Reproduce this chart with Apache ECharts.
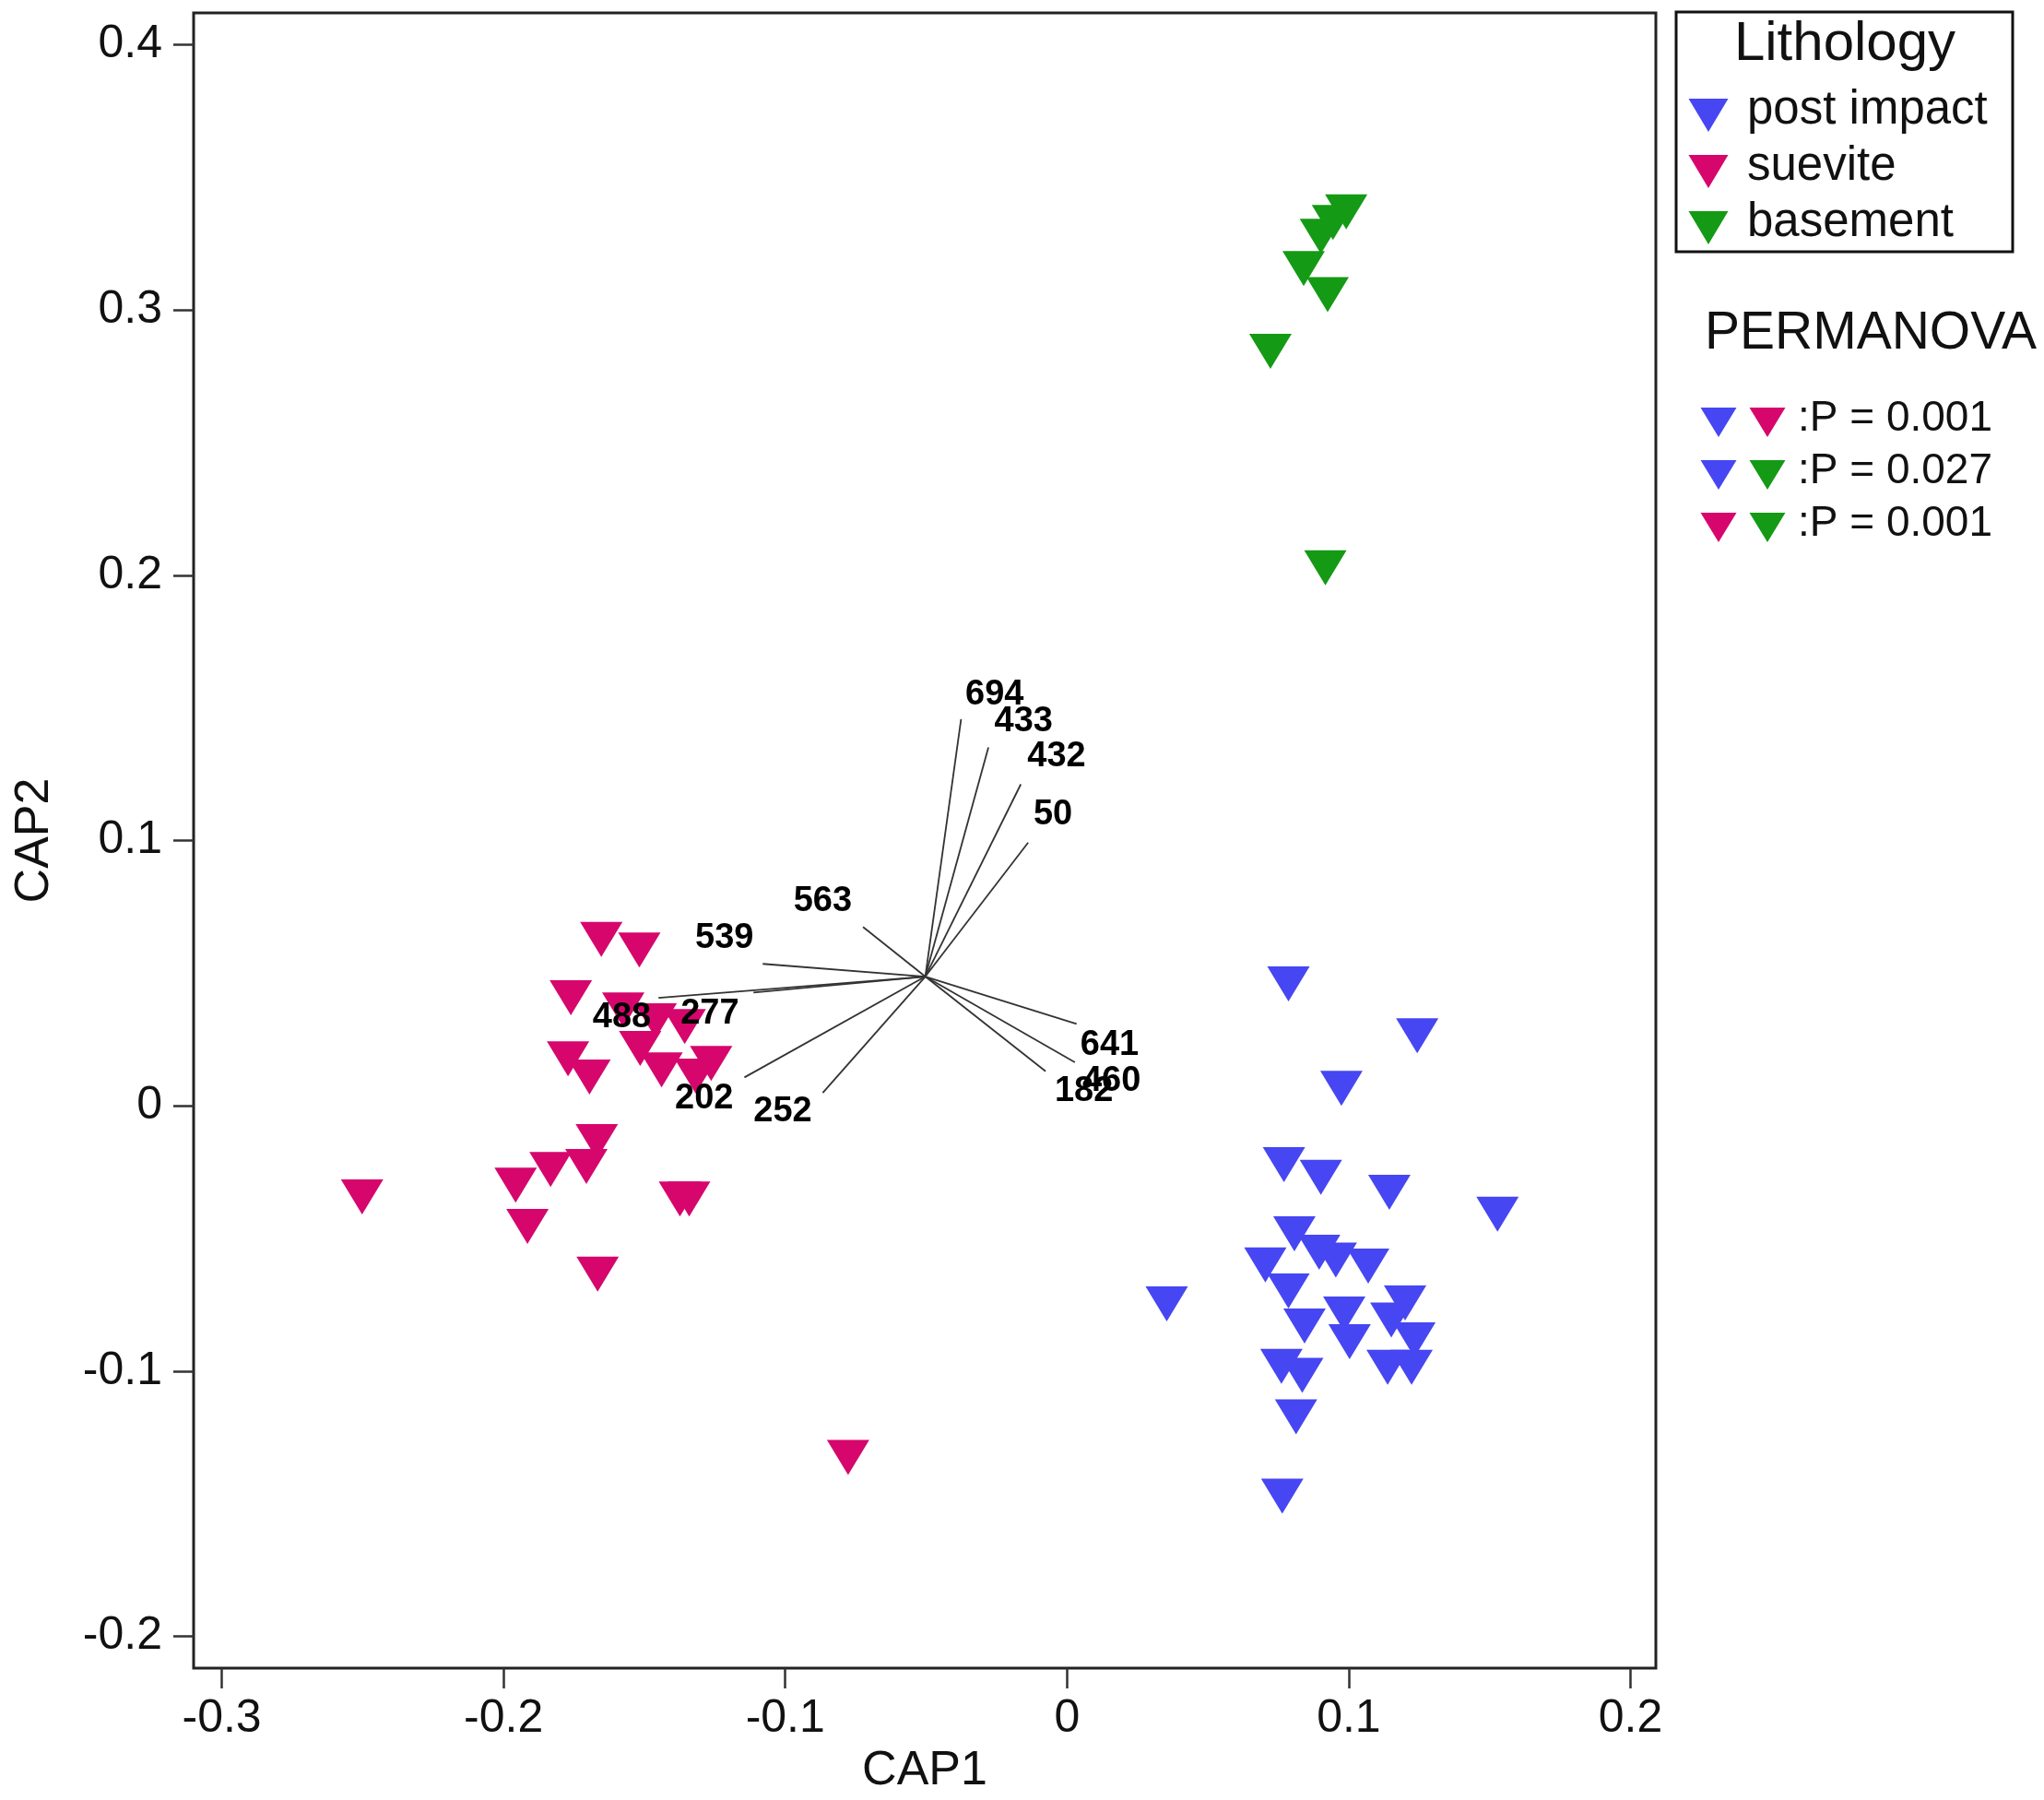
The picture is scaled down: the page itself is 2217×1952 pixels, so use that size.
<!DOCTYPE html>
<html>
<head>
<meta charset="utf-8">
<title>CAP ordination</title>
<script src="https://cdn.jsdelivr.net/npm/echarts@6.0.0/dist/echarts.min.js"></script>
<style>
  html, body { margin: 0; padding: 0; background: #fff; }
  #chart { width: 2217px; height: 1952px; }
</style>
</head>
<body>
<div id="chart"></div>
<script>
// sample scores (CAP1, CAP2)
var postImpact = [
    [0.0786, 0.0459], [0.1243, 0.0264], [0.0974, 0.0066], [0.0770, -0.0222],
    [0.0901, -0.0270], [0.1144, -0.0326], [0.1528, -0.0409], [0.0807, -0.0483],
    [0.0704, -0.0600], [0.0895, -0.0552], [0.0954, -0.0582], [0.1069, -0.0604],
    [0.0786, -0.0698], [0.0843, -0.0830], [0.0984, -0.0785], [0.1003, -0.0889],
    [0.1200, -0.0743], [0.1151, -0.0808], [0.1233, -0.0882], [0.1138, -0.0986],
    [0.1223, -0.0986], [0.0761, -0.0982], [0.0835, -0.1016], [0.0354, -0.0747],
    [0.0813, -0.1173], [0.0764, -0.1472]
];
var suevite = [
    [-0.1653, 0.0627], [-0.1518, 0.0587], [-0.1761, 0.0407], [-0.1575, 0.0361],
    [-0.1460, 0.0320], [-0.1357, 0.0299], [-0.1515, 0.0216], [-0.1439, 0.0135],
    [-0.1263, 0.0160], [-0.1318, 0.0112], [-0.1771, 0.0177], [-0.1695, 0.0108],
    [-0.1669, -0.0135], [-0.1706, -0.0229], [-0.1833, -0.0240], [-0.1957, -0.0299],
    [-0.1915, -0.0455], [-0.2502, -0.0344], [-0.1374, -0.0351], [-0.1341, -0.0351],
    [-0.1666, -0.0635], [-0.0777, -0.1326]
];
var basement = [
    [0.0991, 0.3370], [0.0944, 0.3330], [0.0901, 0.3278], [0.0840, 0.3156],
    [0.0925, 0.3058], [0.0722, 0.2844], [0.0917, 0.2028]
];

// biplot vectors: common origin, tips and where the labels sit
var vectorOrigin = [-0.0503, 0.0487];
var vectorNames = ['694', '433', '432', '50', '563', '539', '488', '277', '202', '252', '641', '460', '182'];
var vectorTips = [
    [-0.0376, 0.1458], [-0.0279, 0.1351], [-0.0164, 0.1212], [-0.0138, 0.0992],
    [-0.0724, 0.0674], [-0.1080, 0.0535], [-0.1450, 0.0407], [-0.1113, 0.0427],
    [-0.1145, 0.0107], [-0.0867, 0.0049], [0.0034, 0.0309], [0.0028, 0.0164],
    [-0.0076, 0.0130]
];
var vectorLabelPos = [
    [-0.0257, 0.1548], [-0.0154, 0.1449], [-0.0037, 0.1316], [-0.0050, 0.1096],
    [-0.0867, 0.0772], [-0.1216, 0.0633], [-0.1580, 0.0334], [-0.1268, 0.0346],
    [-0.1288, 0.0025], [-0.1009, -0.0021], [0.0151, 0.0228], [0.0158, 0.0093],
    [0.0060, 0.0054]
];

var xTicks = [-0.3, -0.2, -0.1, 0, 0.1, 0.2];
var yTicks = [-0.2, -0.1, 0, 0.1, 0.2, 0.3, 0.4];

var groupNames = ['post impact', 'suevite', 'basement'];
var permanovaPairs = [[0, 1], [0, 2], [1, 2]];
var permanovaP = ['0.001', '0.027', '0.001'];

var colors = ['#4646F2', '#D6066D', '#149A14'];
var FONT = '"Liberation Sans", Arial, sans-serif';

var chart = echarts.init(document.getElementById('chart'));

var tri = function (cx, cy, w, h, color) {
    return {
        type: 'polygon',
        shape: { points: [[cx - w / 2, cy - h / 2], [cx + w / 2, cy - h / 2], [cx, cy + h / 2]] },
        style: { fill: color }
    };
};

var graphics = [
    {
        type: 'rect',
        shape: { x: 1818, y: 13, width: 365, height: 260 },
        style: { fill: 'none', stroke: '#111', lineWidth: 3 }
    },
    {
        type: 'text', x: 2001, y: 48,
        style: { text: 'Lithology', font: '60px ' + FONT, fill: '#111', align: 'center', verticalAlign: 'middle' }
    },
    {
        type: 'text', x: 1849, y: 362,
        style: { text: 'PERMANOVA', font: '57px ' + FONT, fill: '#111', align: 'left', verticalAlign: 'middle' }
    }
];
groupNames.forEach(function (name, i) {
    var cy = 125 + i * 61;
    graphics.push(tri(1853, cy, 43, 36, colors[i]));
    graphics.push({
        type: 'text', x: 1895, y: cy - 5,
        style: { text: name, font: '51px ' + FONT, fill: '#111', align: 'left', verticalAlign: 'middle' }
    });
});
permanovaPairs.forEach(function (pair, i) {
    var cy = 458 + i * 57;
    graphics.push(tri(1864, cy, 39, 32, colors[pair[0]]));
    graphics.push(tri(1917, cy, 39, 32, colors[pair[1]]));
    graphics.push({
        type: 'text', x: 1950, y: cy - 4,
        style: { text: ':P = ' + permanovaP[i], font: '46px ' + FONT, fill: '#111', align: 'left', verticalAlign: 'middle' }
    });
});

var scatterSeries = [postImpact, suevite, basement].map(function (pts, i) {
    return {
        name: groupNames[i],
        type: 'scatter',
        data: pts,
        symbol: 'triangle',
        symbolRotate: 180,
        symbolSize: [46, 38],
        itemStyle: { color: colors[i], opacity: 1 },
        z: 2
    };
});

var tickLabelFmt = function (v) { return String(Math.round(v * 10) / 10); };

var option = {
    animation: false,
    backgroundColor: '#fff',
    textStyle: { fontFamily: FONT },
    grid: {
        left: 210, top: 14, right: 421, bottom: 143,
        show: true, borderColor: '#222', borderWidth: 3, backgroundColor: '#fff'
    },
    xAxis: {
        type: 'value',
        min: -0.31, max: 0.209,
        name: 'CAP1',
        nameLocation: 'middle',
        nameGap: 86,
        nameTextStyle: { fontSize: 52, color: '#111', fontFamily: FONT },
        axisLine: { show: false, onZero: false },
        splitLine: { show: false },
        axisTick: { show: true, length: 22, inside: false, customValues: xTicks, lineStyle: { color: '#333', width: 2.5 } },
        axisLabel: { customValues: xTicks, fontSize: 50, color: '#111', margin: 30, fontFamily: FONT, formatter: tickLabelFmt }
    },
    yAxis: {
        type: 'value',
        min: -0.212, max: 0.412,
        name: 'CAP2',
        nameLocation: 'middle',
        nameGap: 146,
        nameRotate: 90,
        nameTextStyle: { fontSize: 52, color: '#111', fontFamily: FONT },
        axisLine: { show: false, onZero: false },
        splitLine: { show: false },
        axisTick: { show: true, length: 22, inside: false, customValues: yTicks, lineStyle: { color: '#333', width: 2.5 } },
        axisLabel: { customValues: yTicks, fontSize: 50, color: '#111', margin: 34, fontFamily: FONT, formatter: tickLabelFmt }
    },
    graphic: graphics,
    series: scatterSeries.concat([
        {
            name: 'vectors',
            type: 'lines',
            coordinateSystem: 'cartesian2d',
            data: vectorTips.map(function (t) { return { coords: [vectorOrigin, t] }; }),
            lineStyle: { color: '#333', width: 1.8, opacity: 1 },
            symbol: 'none',
            z: 3
        },
        {
            name: 'vectorLabels',
            type: 'scatter',
            data: vectorLabelPos.map(function (p, i) { return { name: vectorNames[i], value: p }; }),
            symbolSize: 2,
            itemStyle: { color: 'rgba(0,0,0,0)' },
            label: {
                show: true,
                position: 'inside',
                formatter: '{b}',
                fontSize: 38,
                fontWeight: 'bold',
                color: '#000',
                opacity: 1,
                fontFamily: FONT
            },
            z: 4
        }
    ])
};

chart.setOption(option);
</script>
</body>
</html>
